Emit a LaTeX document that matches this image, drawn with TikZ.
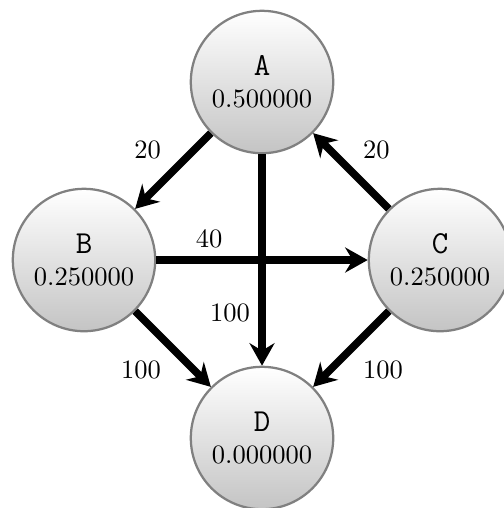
\documentclass[tikz,border=0pt]{standalone}
\usepackage{tikz}
\usetikzlibrary{arrows.meta,positioning}
\definecolor{mcgray}{RGB}{128,128,128}
\definecolor{mcshade}{RGB}{196,196,196}
\newcommand{\mcname}[1]{{\fontsize{12.8}{15}\selectfont\texttt{#1}}}
\tikzset{
  mcnode/.style={circle, draw=mcgray, line width=.9pt, top color=white, bottom color=mcshade, align=center, minimum size=2cm, inner sep=1pt},
  mcarr/.style={-{Stealth[length=9pt, width=10pt, inset=3pt]}, line width=3pt, draw=black}
}

\begin{document}
\begin{tikzpicture}[on grid, node distance=2.5cm and 2.5cm, font=\fontsize{10.6}{13}\selectfont]
  \useasboundingbox (-3.68,-5.983) rectangle (3.385,1.152);
  \node[mcnode] (A) {\mcname{A}\\0.500000};
  \node[mcnode, below left=of A] (B) {\mcname{B}\\0.250000};
  \node[mcnode, below right=of A] (C) {\mcname{C}\\0.250000};
  \node[mcnode, below right=of B] (D) {\mcname{D}\\0.000000};
  \draw[mcarr] (A) -- node[above left] {20} (B);
  \draw[mcarr] (C) -- node[above right] {20} (A);
  \draw[mcarr] (B) -- node[pos=.25, above] {40} (C);
  \draw[mcarr] (A) -- node[pos=.75, left] {100} (D);
  \draw[mcarr] (B) -- node[below left] {100} (D);
  \draw[mcarr] (C) -- node[below right] {100} (D);
\end{tikzpicture}
\end{document}
